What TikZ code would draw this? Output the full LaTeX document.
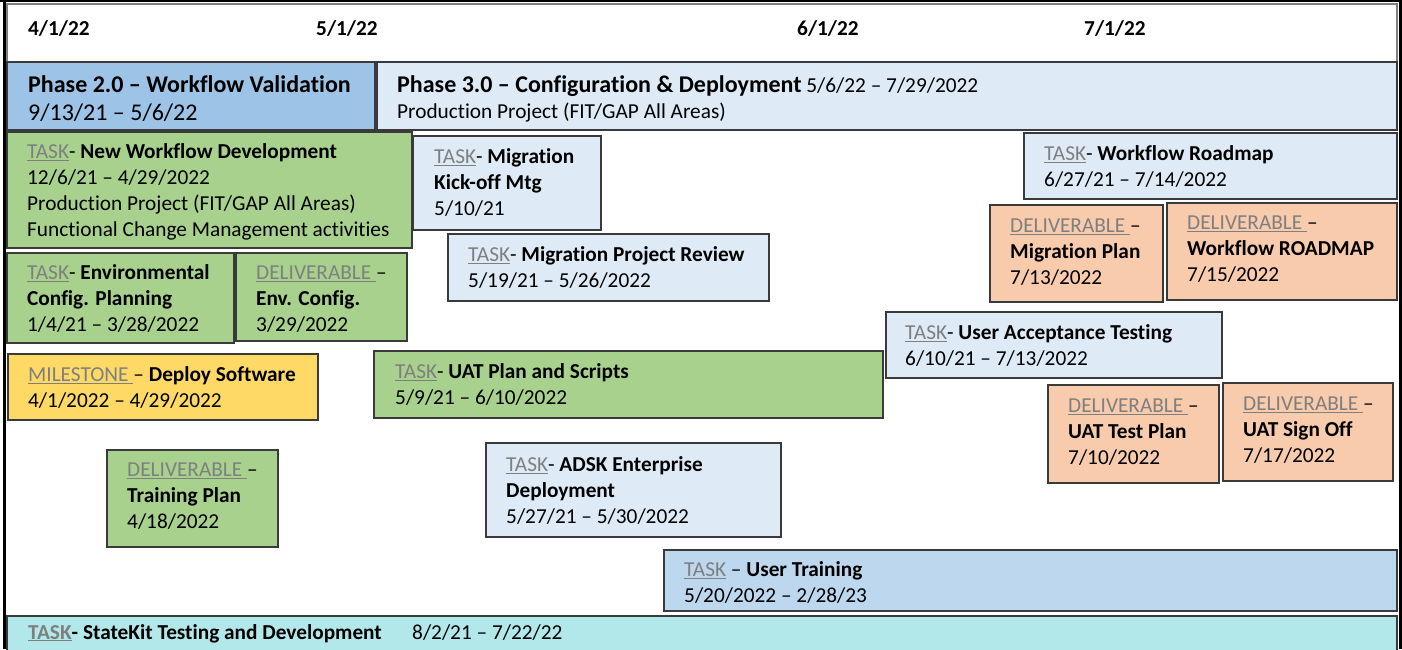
\documentclass[tikz,border=0pt]{standalone}
\usepackage{fontspec}
\setmainfont{Carlito}[Ligatures={TeX,NoCommon}]
\usetikzlibrary{calc}
\definecolor{phaseBlue}{HTML}{9DC3E6}
\definecolor{paleBlue}{HTML}{DEEBF7}
\definecolor{trainBlue}{HTML}{BDD7EE}
\definecolor{taskGreen}{HTML}{A9D18E}
\definecolor{stoneYellow}{HTML}{FFD966}
\definecolor{delivOrange}{HTML}{F8CBAD}
\definecolor{kitCyan}{HTML}{B2E8EA}
\definecolor{boxLine}{HTML}{3A3A3A}
\definecolor{tagGray}{HTML}{7F7F7F}
\newcommand{\tag}[1]{\textcolor{tagGray}{\underline{#1}}}
\tikzset{
  box/.style={draw=boxLine, line width=1.3pt},
  txt/.style={anchor=base west, align=left, inner sep=0pt, font=\fontsize{21.3}{25.7}\selectfont},
  big/.style={txt, font=\fontsize{24}{28}\selectfont},
}

\begin{document}
\begin{tikzpicture}[x=1pt, y=-1pt]
    \useasboundingbox (0,0) rectangle (1402,649);

    % frame and date row
    \draw[box, fill=white, draw=gray] (7,4) rectangle (1397,62);
    \draw[line width=3pt] (4,0) -- (4,649);
    \draw[line width=1.5pt] (0,0.75) -- (1402,0.75);
    \draw[line width=3.5pt] (1400.25,0) -- (1400.25,649);
    \node[txt, font=\fontsize{21.3}{25.7}\selectfont\bfseries] (apr) at (28,35) {4/1/22};
    \node[txt, font=\fontsize{21.3}{25.7}\selectfont\bfseries] (may) at (316,35) {5/1/22};
    \node[txt, font=\fontsize{21.3}{25.7}\selectfont\bfseries] (jun) at (797,35) {6/1/22};
    \node[txt, font=\fontsize{21.3}{25.7}\selectfont\bfseries] (jul) at (1084,35) {7/1/22};

    % phases (y of a text node = baseline of its last line)
    \draw[box, fill=phaseBlue] (7,62) rectangle (375,130);
    \node[big] (phase2) at (28,120) {\textbf{Phase 2.0 -- Workflow Validation}\\9/13/21 -- 5/6/22};
    \draw[box, fill=paleBlue] (377,62) rectangle (1397,130);
    \node[txt] (phase3) at (397,118) {{\fontsize{24}{28}\selectfont\bfseries Phase 3.0 -- Configuration \& Deployment} 5/6/22 -- 7/29/2022\\Production Project (FIT/GAP All Areas)};

    % tasks
    \draw[box, fill=taskGreen] (7,132) rectangle (412,248);
    \node[txt] (newflow) at (27,236) {\tag{TASK}- \textbf{New Workflow Development}\\12/6/21 -- 4/29/2022\\Production Project (FIT/GAP All Areas)\\Functional Change Management activities};

    \draw[box, fill=paleBlue] (413,136) rectangle (601,230);
    \node[txt] (kickoff) at (434,215) {\tag{TASK}- \textbf{Migration}\\\textbf{Kick-off Mtg}\\5/10/21};

    \draw[box, fill=paleBlue] (448,234) rectangle (769,301);
    \node[txt] (review) at (468,287) {\tag{TASK}- \textbf{Migration Project Review}\\5/19/21 -- 5/26/2022};

    \draw[box, fill=paleBlue] (1024,133) rectangle (1397,199);
    \node[txt] (roadmap) at (1044,186) {\tag{TASK}- \textbf{Workflow Roadmap}\\6/27/21 -- 7/14/2022};

    \draw[box, fill=taskGreen] (7,253) rectangle (234,343);
    \node[txt] (envplan) at (27,331) {\tag{TASK}- \textbf{Environmental}\\\textbf{Config. Planning}\\1/4/21 -- 3/28/2022};

    \draw[box, fill=taskGreen] (236,253) rectangle (407,341);
    \node[txt] (envconf) at (256,331) {\tag{DELIVERABLE }--\\\textbf{Env. Config.}\\3/29/2022};

    \draw[box, fill=stoneYellow] (8,354) rectangle (318,420);
    \node[txt] (deploy) at (28,407) {\tag{MILESTONE }-- \textbf{Deploy Software}\\4/1/2022 -- 4/29/2022};

    \draw[box, fill=taskGreen] (374,351) rectangle (883,418);
    \node[txt] (uatscripts) at (395,404) {\tag{TASK}- \textbf{UAT Plan and Scripts}\\5/9/21 -- 6/10/2022};

    \draw[box, fill=paleBlue] (886,312) rectangle (1222,378);
    \node[txt] (uat) at (905,365) {\tag{TASK}- \textbf{User Acceptance Testing}\\6/10/21 -- 7/13/2022};

    % deliverables
    \draw[box, fill=delivOrange] (990,205) rectangle (1163,302);
    \node[txt] (migplan) at (1010,284) {\tag{DELIVERABLE }--\\\textbf{Migration Plan}\\7/13/2022};

    \draw[box, fill=delivOrange] (1167,203) rectangle (1397,300);
    \node[txt] (roadmapdoc) at (1187,281) {\tag{DELIVERABLE }--\\\textbf{Workflow ROADMAP}\\7/15/2022};

    \draw[box, fill=delivOrange] (1048,385) rectangle (1219,483);
    \node[txt] (testplan) at (1068,464) {\tag{DELIVERABLE }--\\\textbf{UAT Test Plan}\\7/10/2022};

    \draw[box, fill=delivOrange] (1223,383) rectangle (1393,481);
    \node[txt] (signoff) at (1243,462) {\tag{DELIVERABLE }--\\\textbf{UAT Sign Off}\\7/17/2022};

    \draw[box, fill=taskGreen] (107,450) rectangle (278,547);
    \node[txt] (trainplan) at (127,528) {\tag{DELIVERABLE }--\\\textbf{Training Plan}\\4/18/2022};

    \draw[box, fill=paleBlue] (486,443) rectangle (781,537);
    \node[txt] (adsk) at (506,523) {\tag{TASK}- \textbf{ADSK Enterprise}\\\textbf{Deployment}\\5/27/21 -- 5/30/2022};

    \draw[box, fill=trainBlue] (664,550) rectangle (1397,611);
    \node[txt] (training) at (684,602) {\tag{TASK} -- \textbf{User Training}\\5/20/2022 -- 2/28/23};

    \draw[box, fill=kitCyan] (7,616) rectangle (1397,655);
    \node[txt] (statekit) at (28,639) {\textbf{\tag{TASK}- StateKit Testing and Development}};
    \node[txt] (kitdates) at (412,639) {8/2/21 -- 7/22/22};
  \end{tikzpicture}
\end{document}
